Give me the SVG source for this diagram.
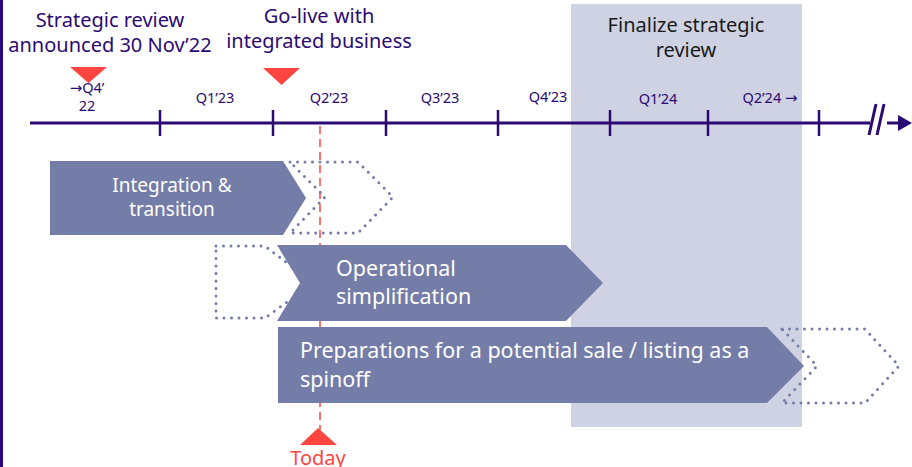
<svg xmlns="http://www.w3.org/2000/svg" width="912" height="467" viewBox="0 0 912 467">
<style>
.lbl{font-family:"Noto Sans","Liberation Sans",sans-serif;fill:#2b0a73}
.big{font-size:20px}
.q{font-size:14.5px}
.ar{font-family:"DejaVu Sans",sans-serif;font-size:15px}
.bar{fill:#747ca8}
.bt{font-family:"Noto Sans","Liberation Sans",sans-serif;fill:#ffffff;font-size:19px}
.bt2{font-size:21.5px}
.dot{fill:none;stroke:#747ca8;stroke-width:3;stroke-linecap:round;stroke-dasharray:0 7.5}
.red{fill:#ff4540}
.tick{stroke:#2b0a73;stroke-width:2.5}
</style>
<rect x="0" y="0" width="912" height="467" fill="#ffffff"/>
<rect x="0" y="0" width="3" height="467" fill="#2b0a80"/>
<g id="review-window">
<rect x="571" y="4" width="231" height="423" fill="#cfd2e2"/>
<text x="686" y="32" text-anchor="middle" font-family="Noto Sans, Liberation Sans, sans-serif" font-size="20" fill="#1a1a1a">Finalize strategic</text>
<text x="686" y="57" text-anchor="middle" font-family="Noto Sans, Liberation Sans, sans-serif" font-size="20" fill="#1a1a1a">review</text>
</g>
<g id="timeline">
<line x1="30" y1="123" x2="870" y2="123" stroke="#2b0a73" stroke-width="3"/>
<line x1="887" y1="123" x2="900" y2="123" stroke="#2b0a73" stroke-width="3"/>
<polygon points="898,115 912,123 898,131" fill="#2b0a73"/>
<line x1="876" y1="104" x2="869" y2="135" stroke="#2b0a73" stroke-width="3"/>
<line x1="884" y1="104" x2="877" y2="135" stroke="#2b0a73" stroke-width="3"/>
<line class="tick" x1="160" y1="110" x2="160" y2="136"/>
<line class="tick" x1="273" y1="110" x2="273" y2="136"/>
<line class="tick" x1="386" y1="110" x2="386" y2="136"/>
<line class="tick" x1="498" y1="110" x2="498" y2="136"/>
<line class="tick" x1="610" y1="110" x2="610" y2="136"/>
<line class="tick" x1="708" y1="110" x2="708" y2="136"/>
<line class="tick" x1="819" y1="110" x2="819" y2="136"/>
<text class="lbl q" x="87" y="93" text-anchor="middle"><tspan class="ar">→</tspan>Q4’</text>
<text class="lbl q" x="87" y="111" text-anchor="middle">22</text>
<text class="lbl q" x="215" y="103" text-anchor="middle">Q1’23</text>
<text class="lbl q" x="329" y="103" text-anchor="middle">Q2’23</text>
<text class="lbl q" x="440" y="103" text-anchor="middle">Q3’23</text>
<text class="lbl q" x="548" y="102" text-anchor="middle">Q4’23</text>
<text class="lbl q" x="658" y="104" text-anchor="middle">Q1’24</text>
<text class="lbl q" x="770" y="103" text-anchor="middle">Q2’24 <tspan class="ar">→</tspan></text>
</g>
<g id="milestone-review">
<text class="lbl big" x="110" y="27" text-anchor="middle">Strategic review</text>
<text class="lbl big" x="110" y="52" text-anchor="middle">announced 30 Nov’22</text>
<polygon class="red" points="70,67 107,67 88.5,83"/>
</g>
<g id="milestone-golive">
<text class="lbl big" x="319" y="23" text-anchor="middle">Go-live with</text>
<text class="lbl big" x="319" y="48" text-anchor="middle">integrated business</text>
<polygon class="red" points="263,68 300,68 281.5,85"/>
</g>
<g id="connectors">
<line x1="320" y1="126" x2="320" y2="430" stroke="#ff4540" stroke-width="1.5" stroke-dasharray="8 5"/>
</g>
<g id="integration">
<polygon class="bar" points="50,161 283,161 306,198 283,235 50,235"/>
<polygon class="dot" points="290,162 358,162 393,197 358,233 290,233 325,197"/>
<text class="bt" x="172" y="192" text-anchor="middle">Integration &amp;</text>
<text class="bt" x="172" y="216" text-anchor="middle">transition</text>
</g>
<g id="operational">
<polygon class="dot" points="216,246 265,246 313,283 265,318 216,318"/>
<polygon class="bar" points="277,245 566,245 603,283 566,321 277,321 300,283"/>
<text class="bt bt2" x="336" y="276">Operational</text>
<text class="bt bt2" x="336" y="304">simplification</text>
</g>
<g id="preparations">
<polygon class="bar" points="278,327 767,327 804,366 767,403 278,403"/>
<polygon class="dot" points="782,329 865,329 899,366 865,403 782,403 817,366"/>
<text class="bt bt2" x="300" y="358">Preparations for a potential sale / listing as a</text>
<text class="bt bt2" x="300" y="387">spinoff</text>
</g>
<g id="today">
<polygon class="red" points="318,428 337,445 300,445"/>
<text x="318" y="465" text-anchor="middle" font-family="Noto Sans, Liberation Sans, sans-serif" font-size="20" fill="#ff4540">Today</text>
</g>
</svg>
